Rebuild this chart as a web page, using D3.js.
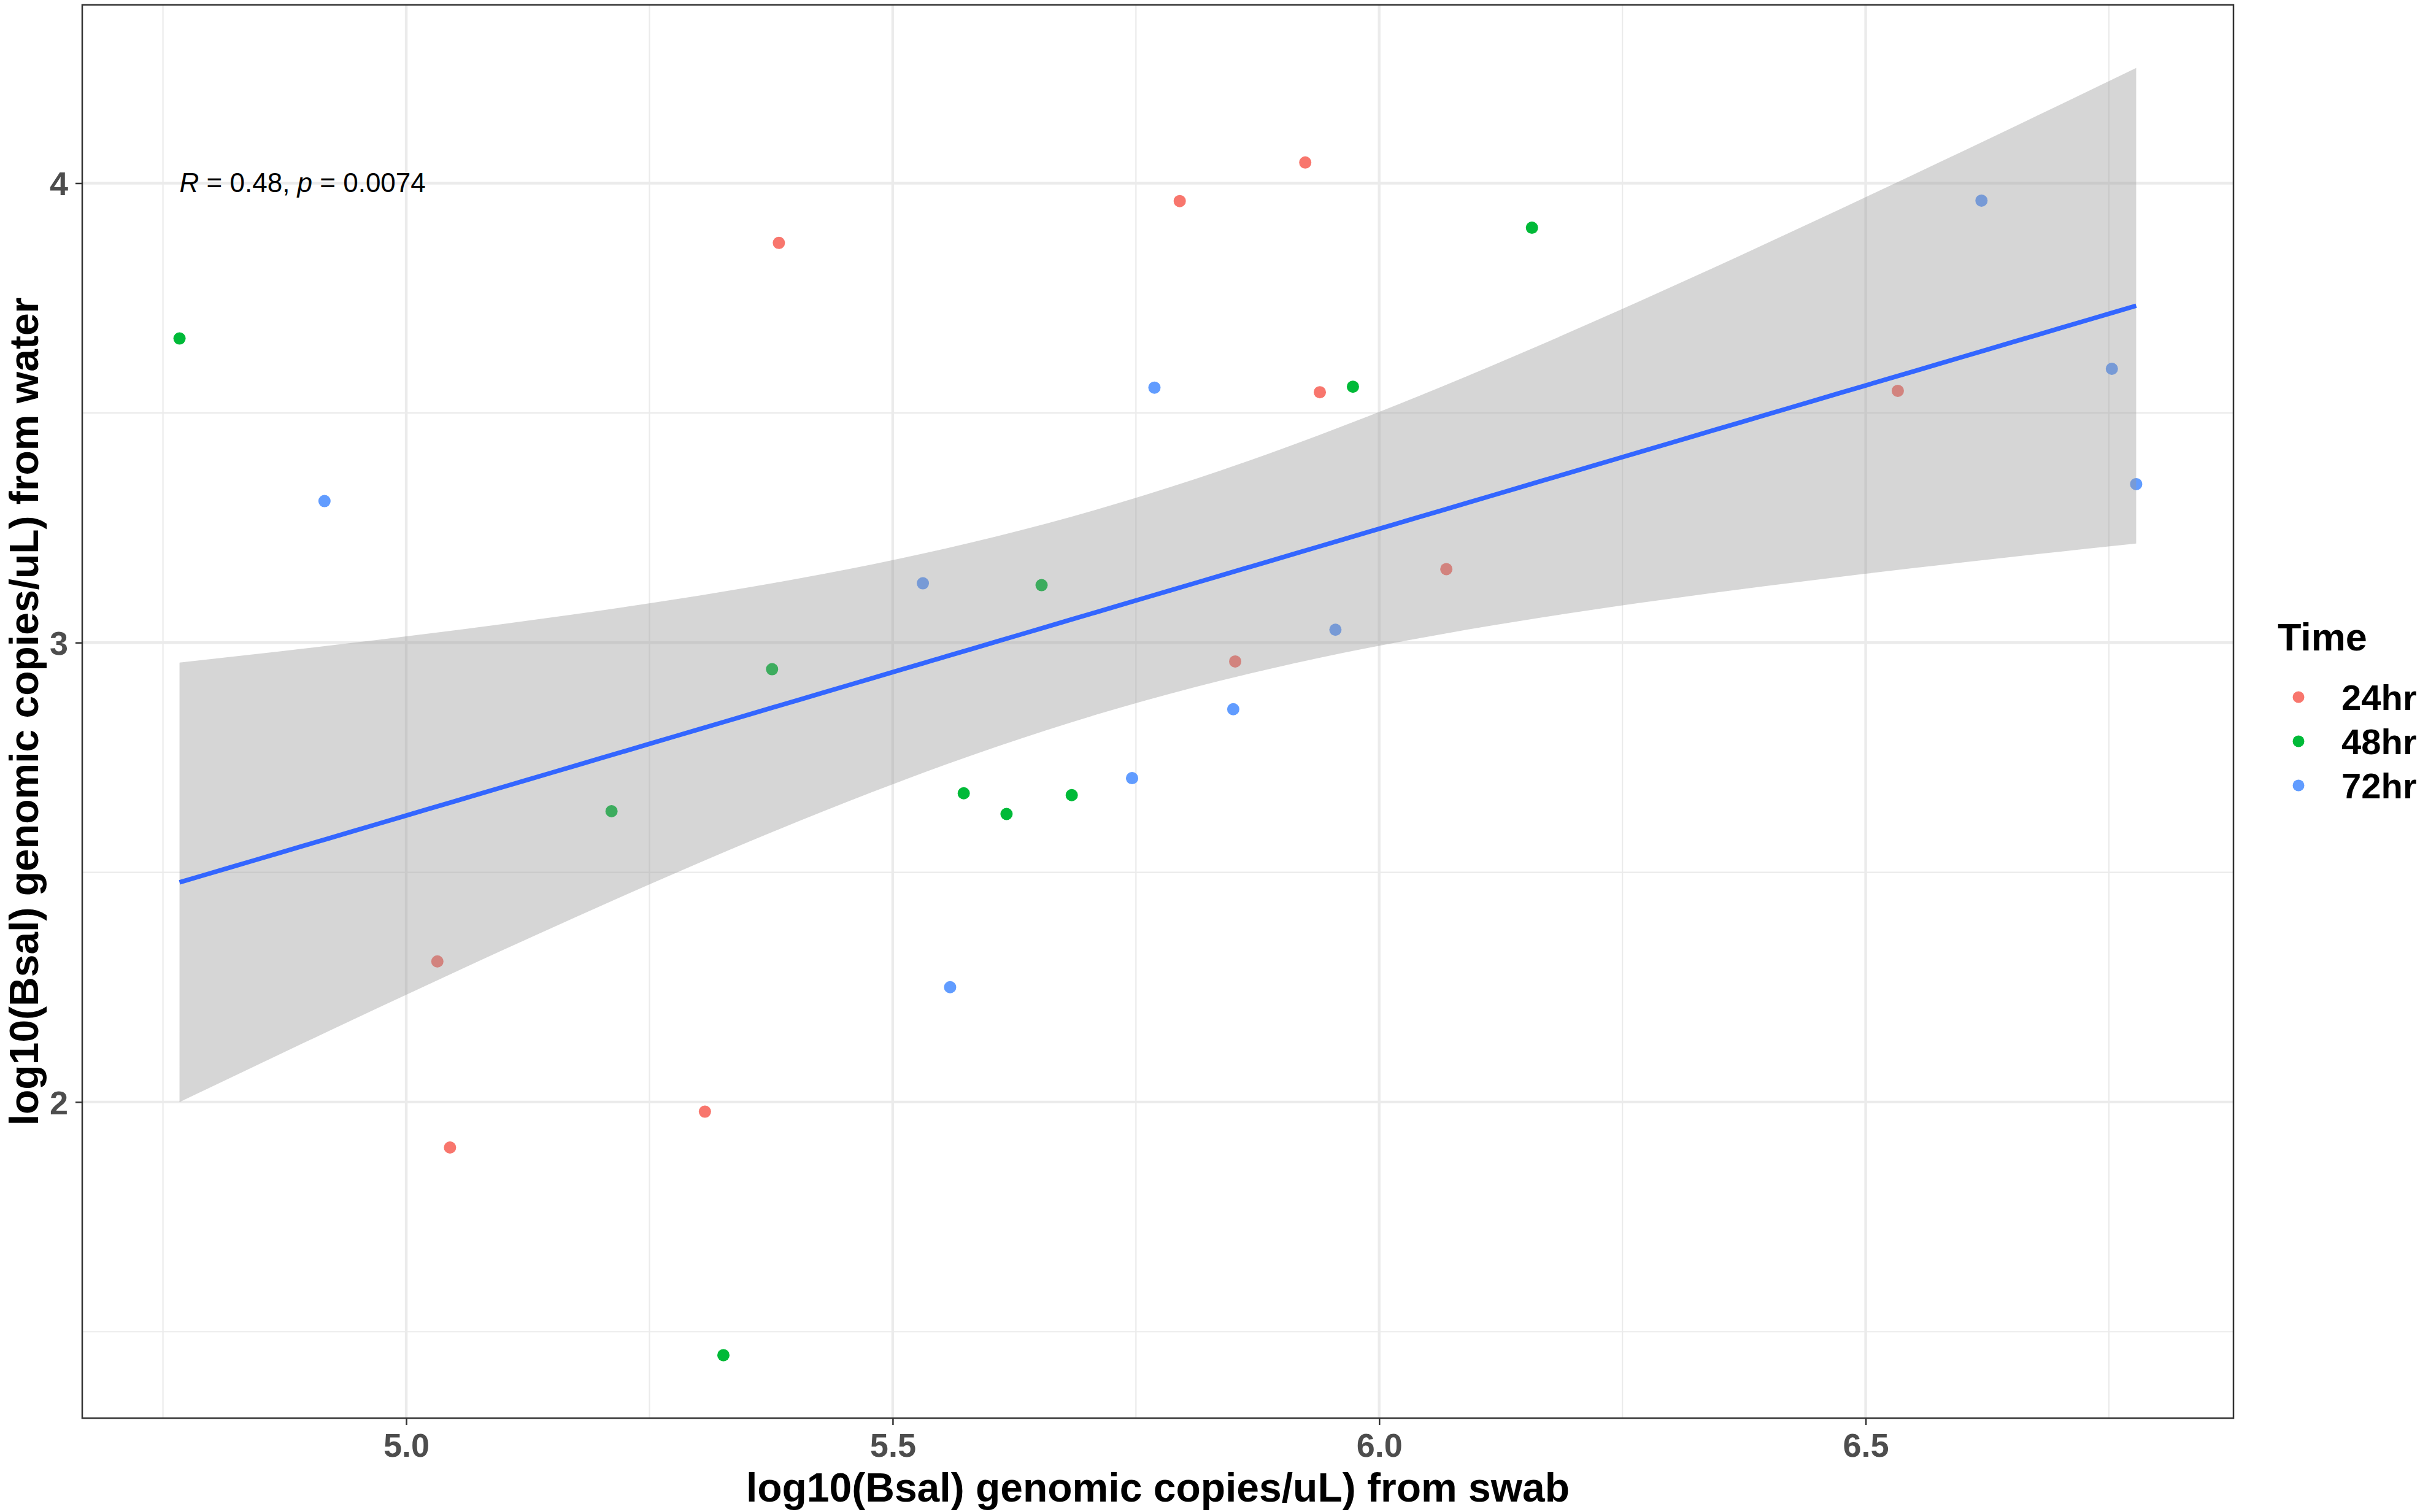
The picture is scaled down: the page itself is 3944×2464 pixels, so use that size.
<!DOCTYPE html>
<html>
<head>
<meta charset="utf-8">
<script src="https://cdn.jsdelivr.net/npm/d3@7"></script>
<style>
  html, body { margin: 0; padding: 0; background: #fff; }
  text { font-family: "Liberation Sans", Arial, sans-serif; }
</style>
</head>
<body>
<div class="viz"></div>
<script>
// Groups and colours (ggplot default hue palette)
const timeLevels = ["24hr", "48hr", "72hr"];
const timeColors = ["#F8766D", "#00BA38", "#619CFF"];

// log10 copies/uL from swab (x) and from water (y), one pair of arrays per group
const swab24 = [5.383, 5.924, 5.795, 5.939, 6.069, 5.852, 6.533, 5.032, 5.307, 5.045];
const water24 = [3.870, 4.045, 3.961, 3.545, 3.160, 2.959, 3.548, 2.306, 1.979, 1.901];
const swab48 = [4.767, 5.376, 6.157, 5.973, 5.653, 5.211, 5.326, 5.573, 5.617, 5.684];
const water48 = [3.662, 2.942, 3.903, 3.557, 3.125, 2.633, 1.449, 2.672, 2.627, 2.668];
const swab72 = [4.916, 5.769, 5.531, 5.955, 6.619, 6.753, 6.778, 5.850, 5.746, 5.559];
const water72 = [3.308, 3.555, 3.129, 3.028, 3.962, 3.596, 3.345, 2.855, 2.705, 2.250];

// Axis ticks
const xMajorTicks = [5.0, 5.5, 6.0, 6.5];
const xMinorTicks = [4.75, 5.25, 5.75, 6.25, 6.75];
const yMajorTicks = [2, 3, 4];
const yMinorTicks = [1.5, 2.5, 3.5];

const corLabel = { r: "0.48", p: "0.0074" };

const swabs = [swab24, swab48, swab72];
const waters = [water24, water48, water72];
const points = [];
timeLevels.forEach((t, i) => {
  swabs[i].forEach((x, j) => points.push({ time: t, x: x, y: waters[i][j] }));
});

const totalWidth = 3944;
const totalHeight = 2464;
const margin = { top: 8, right: 304, bottom: 153, left: 134 };
const width = totalWidth - margin.left - margin.right;
const height = totalHeight - margin.top - margin.bottom;

const svg = d3
  .select(".viz")
  .append("svg")
  .attr("width", totalWidth)
  .attr("height", totalHeight);

const g = svg
  .append("g")
  .attr("transform", `translate(${margin.left},${margin.top})`);

// Scales
const xScale = d3.scaleLinear().domain([4.667, 6.878]).range([0, width]);
const yScale = d3.scaleLinear().domain([1.312, 4.388]).range([height, 0]);
const color = d3.scaleOrdinal().domain(timeLevels).range(timeColors);

// Grid lines
const gridColor = "#EBEBEB";
g.selectAll(".xminor")
  .data(xMinorTicks)
  .enter()
  .append("line")
  .attr("x1", (d) => xScale(d))
  .attr("x2", (d) => xScale(d))
  .attr("y1", 0)
  .attr("y2", height)
  .attr("stroke", gridColor)
  .attr("stroke-width", 2.2);

g.selectAll(".yminor")
  .data(yMinorTicks)
  .enter()
  .append("line")
  .attr("x1", 0)
  .attr("x2", width)
  .attr("y1", (d) => yScale(d))
  .attr("y2", (d) => yScale(d))
  .attr("stroke", gridColor)
  .attr("stroke-width", 2.2);

g.selectAll(".xmajor")
  .data(xMajorTicks)
  .enter()
  .append("line")
  .attr("x1", (d) => xScale(d))
  .attr("x2", (d) => xScale(d))
  .attr("y1", 0)
  .attr("y2", height)
  .attr("stroke", gridColor)
  .attr("stroke-width", 4.4);

g.selectAll(".ymajor")
  .data(yMajorTicks)
  .enter()
  .append("line")
  .attr("x1", 0)
  .attr("x2", width)
  .attr("y1", (d) => yScale(d))
  .attr("y2", (d) => yScale(d))
  .attr("stroke", gridColor)
  .attr("stroke-width", 4.4);

// Points (drawn under the confidence band, as in ggplot)
g.selectAll(".pt")
  .data(points)
  .enter()
  .append("circle")
  .attr("cx", (d) => xScale(d.x))
  .attr("cy", (d) => yScale(d.y))
  .attr("r", 10)
  .attr("fill", (d) => color(d.time));

// Linear fit with 95% confidence band
const n = points.length;
const xbar = d3.mean(points, (d) => d.x);
const ybar = d3.mean(points, (d) => d.y);
const sxx = d3.sum(points, (d) => (d.x - xbar) ** 2);
const sxy = d3.sum(points, (d) => (d.x - xbar) * (d.y - ybar));
const slope = sxy / sxx;
const intercept = ybar - slope * xbar;
const sse = d3.sum(points, (d) => (d.y - (intercept + slope * d.x)) ** 2);
const sigma = Math.sqrt(sse / (n - 2));
const tCrit = 2.048; // t(0.975, df = 28)

const [xMin, xMax] = d3.extent(points, (d) => d.x);
const fit = d3.range(80).map((i) => {
  const x = xMin + ((xMax - xMin) * i) / 79;
  const y = intercept + slope * x;
  const se = sigma * Math.sqrt(1 / n + (x - xbar) ** 2 / sxx);
  return { x: x, y: y, lo: y - tCrit * se, hi: y + tCrit * se };
});

g.append("path")
  .datum(fit)
  .attr("fill", "#999999")
  .attr("fill-opacity", 0.4)
  .attr(
    "d",
    d3
      .area()
      .x((d) => xScale(d.x))
      .y0((d) => yScale(d.lo))
      .y1((d) => yScale(d.hi))
  );

g.append("path")
  .datum(fit)
  .attr("fill", "none")
  .attr("stroke", "#3366FF")
  .attr("stroke-width", 7.5)
  .attr(
    "d",
    d3
      .line()
      .x((d) => xScale(d.x))
      .y((d) => yScale(d.y))
  );

// Correlation label
const cor = g
  .append("text")
  .attr("x", xScale(4.767))
  .attr("y", yScale(4) + 15)
  .attr("fill", "#000")
  .style("font-size", "44px");
cor.append("tspan").style("font-style", "italic").text("R");
cor.append("tspan").text(` = ${corLabel.r}, `);
cor.append("tspan").style("font-style", "italic").text("p");
cor.append("tspan").text(` = ${corLabel.p}`);

// Panel border
g.append("rect")
  .attr("x", 0)
  .attr("y", 0)
  .attr("width", width)
  .attr("height", height)
  .attr("fill", "none")
  .attr("stroke", "#333333")
  .attr("stroke-width", 2.5);

// Axes
const xAxis = g
  .append("g")
  .attr("transform", `translate(0,${height})`)
  .call(
    d3
      .axisBottom(xScale)
      .tickValues(xMajorTicks)
      .tickFormat(d3.format(".1f"))
      .tickSize(11)
      .tickPadding(14)
  );

const yAxis = g.append("g").call(
  d3
    .axisLeft(yScale)
    .tickValues(yMajorTicks)
    .tickFormat(d3.format("d"))
    .tickSize(11)
    .tickPadding(12)
);

[xAxis, yAxis].forEach((ax) => {
  ax.select(".domain").remove();
  ax.selectAll(".tick line").attr("stroke", "#333333").attr("stroke-width", 2.5);
  ax.selectAll(".tick text")
    .attr("fill", "#4D4D4D")
    .style("font-size", "54px")
    .style("font-weight", "bold")
    .style("font-family", '"Liberation Sans", Arial, sans-serif');
});
yAxis.selectAll(".tick text").attr("dy", "0.36em");

// Axis titles
svg
  .append("text")
  .attr("x", margin.left + width / 2)
  .attr("y", 2447)
  .attr("text-anchor", "middle")
  .attr("fill", "#000")
  .style("font-size", "66px")
  .style("font-weight", "bold")
  .text("log10(Bsal) genomic copies/uL) from swab");

svg
  .append("text")
  .attr("transform", `translate(62,${margin.top + height / 2}) rotate(-90)`)
  .attr("text-anchor", "middle")
  .attr("fill", "#000")
  .style("font-size", "66px")
  .style("font-weight", "bold")
  .text("log10(Bsal) genomic copies/uL) from water");

// Legend
const legend = svg.append("g").attr("transform", "translate(3712,1060)");

legend
  .append("text")
  .attr("x", 0)
  .attr("y", 0)
  .attr("fill", "#000")
  .style("font-size", "63px")
  .style("font-weight", "bold")
  .text("Time");

const items = legend
  .selectAll(".item")
  .data(timeLevels)
  .enter()
  .append("g")
  .attr("transform", (d, i) => `translate(34,${76 + i * 72})`);

items
  .append("circle")
  .attr("r", 9.5)
  .attr("fill", (d) => color(d));

items
  .append("text")
  .attr("x", 70)
  .attr("y", 0)
  .attr("dy", "0.36em")
  .attr("fill", "#000")
  .style("font-size", "58px")
  .style("font-weight", "bold")
  .text((d) => d);
</script>
</body>
</html>
